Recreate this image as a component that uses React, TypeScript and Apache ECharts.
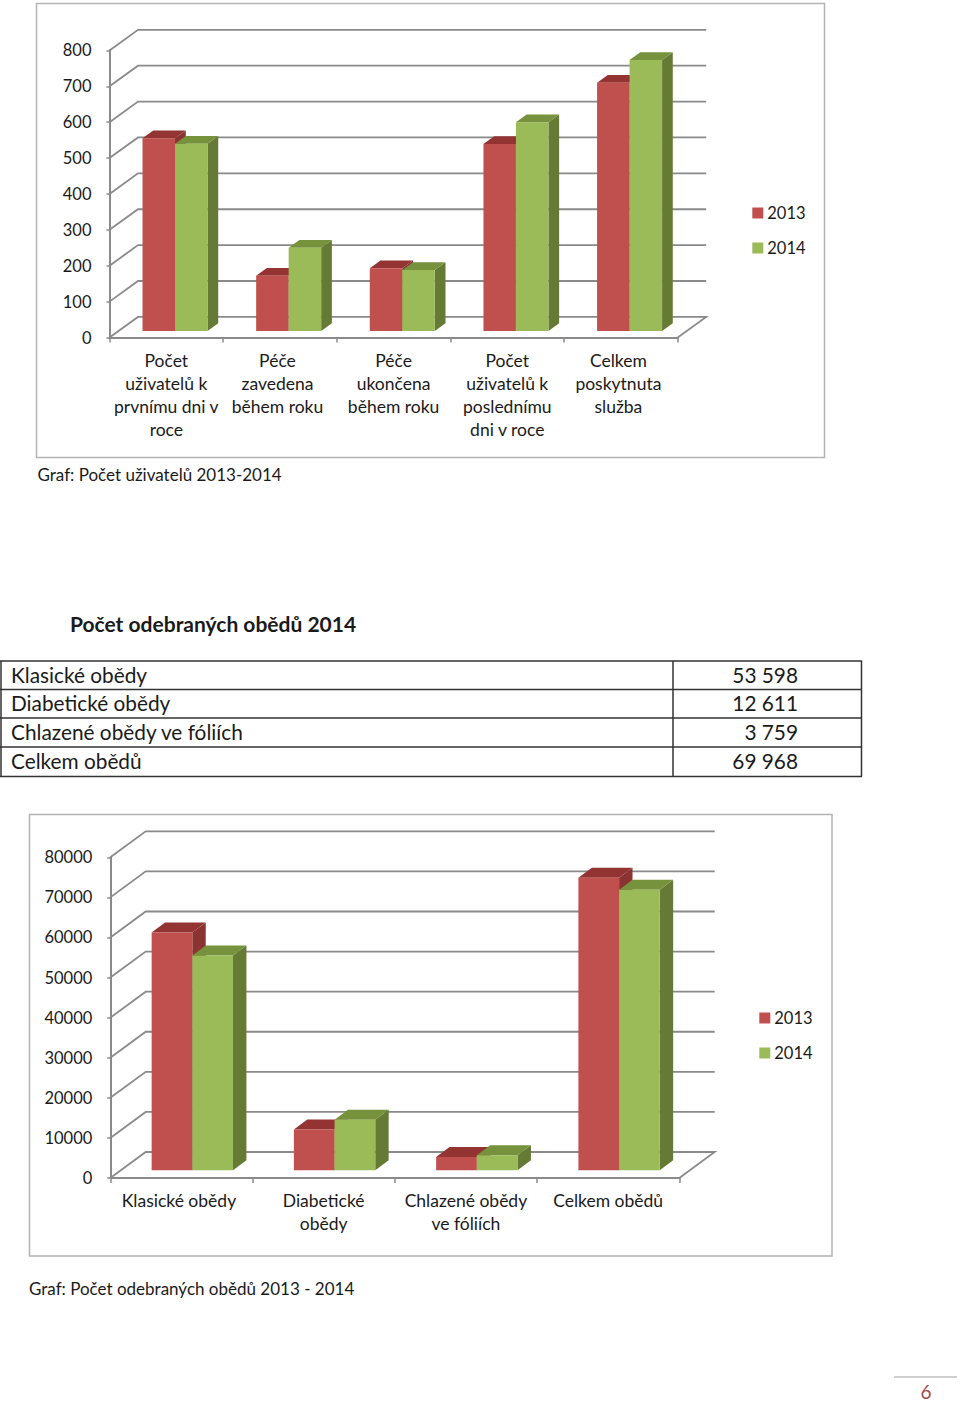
import React, { useEffect, useRef } from "react";
import * as echarts from "echarts";

const usersCategories = [
  "Počet\nuživatelů k\nprvnímu dni v\nroce",
  "Péče\nzavedena\nběhem roku",
  "Péče\nukončena\nběhem roku",
  "Počet\nuživatelů k\nposlednímu\ndni v roce",
  "Celkem\nposkytnuta\nslužba",
];
const users2013 = [537, 154, 175, 521, 692];
const users2014 = [522, 232, 170, 582, 755];
const usersTicks = [0, 100, 200, 300, 400, 500, 600, 700, 800];

const mealsCategories = ["Klasické obědy", "Diabetické\nobědy", "Chlazené obědy\nve fóliích", "Celkem obědů"];
const meals2013 = [59300, 10200, 3300, 73000];
const meals2014 = [53598, 12611, 3759, 69968];
const mealsTicks = [0, 10000, 20000, 30000, 40000, 50000, 60000, 70000, 80000];

const tableLabels = ["Klasické obědy", "Diabetické obědy", "Chlazené obědy ve fóliích", "Celkem obědů"];
const tableValues = ["53 598", "12 611", "3 759", "69 968"];

const FONT = "Lato";
const GRAY = "#8a8a8a";
const RED = { front: "#c0504d", top: "#933432", side: "#8a3331" };
const GREEN = { front: "#9bbb59", top: "#76923c", side: "#647a35" };

type Geo = {
  left: number; top: number; right: number; bottom: number;
  wallDx: number; wallDy: number; offX: number; offY: number; barDx: number; barDy: number;
};
const geoUsers: Geo = { left: 109.5, top: 50.4, right: 677.7, bottom: 337.5, wallDx: 28.5, wallDy: 20.6, offX: 8.7, offY: 6.5, barDx: 10.7, barDy: 7.7 };
const geoMeals: Geo = { left: 110.3, top: 857.3, right: 679.3, bottom: 1178, wallDx: 35.4, wallDy: 26, offX: 10.9, offY: 7.7, barDx: 13.4, barDy: 10 };

function wallSeries(axisIndex: number, ticks: number[], geo: Geo) {
  return {
    type: "custom",
    name: "wall",
    xAxisIndex: axisIndex,
    yAxisIndex: axisIndex,
    silent: true,
    z: 1,
    data: ticks.map((t) => [0, t]),
    renderItem: (_p: any, api: any) => {
      const y = api.coord([0, api.value(1)])[1];
      const pts: number[][] = [
        [geo.left, y],
        [geo.left + geo.wallDx, y - geo.wallDy],
        [geo.right + geo.wallDx, y - geo.wallDy],
      ];
      if (api.value(1) === 0) pts.push([geo.right, y]);
      return { type: "polyline", shape: { points: pts }, style: { stroke: GRAY, lineWidth: 1.8, fill: "none" } };
    },
  };
}

function barSeries(name: string, axisIndex: number, values: number[], side: number, c: typeof RED, geo: Geo) {
  return {
    type: "custom",
    name,
    xAxisIndex: axisIndex,
    yAxisIndex: axisIndex,
    z: 3,
    silent: true,
    itemStyle: { color: c.front },
    data: values.map((v, i) => [i, v]),
    renderItem: (_p: any, api: any) => {
      const i = api.value(0);
      const top = api.coord([i, api.value(1)]);
      const base = api.coord([i, 0]);
      const w = api.size([1, 0])[0] * 0.286;
      const x0 = top[0] + geo.offX + (side === 0 ? -w : 0);
      const x1 = x0 + w;
      const y0 = top[1] - geo.offY;
      const y1 = base[1] - geo.offY;
      const { barDx: dx, barDy: dy } = geo;
      return {
        type: "group",
        children: [
          { type: "polygon", shape: { points: [[x1, y0], [x1 + dx, y0 - dy], [x1 + dx, y1 - dy], [x1, y1]] }, style: { fill: c.side } },
          { type: "polygon", shape: { points: [[x0, y0], [x0 + dx, y0 - dy], [x1 + dx, y0 - dy], [x1, y0]] }, style: { fill: c.top } },
          { type: "rect", shape: { x: x0, y: y0, width: w, height: y1 - y0 }, style: { fill: c.front } },
        ],
      };
    },
  };
}

// labelPad: extra room to the right of a label's lines, which moves that label a little to the left
function cat(gridIndex: number, data: string[], labelPad: number[]) {
  const style = { color: "#1a1a1a", fontFamily: FONT, fontSize: 17.5, lineHeight: 23 };
  const rich: any = {};
  labelPad.forEach((p, i) => {
    rich["c" + i] = { ...style, padding: [0, p, 0, 0] };
  });
  return {
    type: "category",
    gridIndex,
    data,
    boundaryGap: true,
    axisLine: { show: true, lineStyle: { color: GRAY, width: 2 } },
    axisTick: { show: true, length: 5, interval: 0, lineStyle: { color: GRAY, width: 1.5 } },
    axisLabel: {
      interval: 0,
      margin: 11,
      ...style,
      hideOverlap: false,
      rich,
      formatter: (v: string) => {
        const i = data.indexOf(v);
        return v.split("\n").map((l) => `{c${i}|${l}}`).join("\n");
      },
    },
    splitLine: { show: false },
  };
}

function val(gridIndex: number, max: number, interval: number) {
  return {
    type: "value",
    gridIndex,
    min: 0,
    max,
    interval,
    axisLine: { show: true, lineStyle: { color: GRAY, width: 2 } },
    axisTick: { show: true, length: 3, lineStyle: { color: GRAY, width: 1.5 } },
    axisLabel: { margin: 18, color: "#1a1a1a", fontFamily: FONT, fontSize: 16.5, formatter: (v: number) => String(v) },
    splitLine: { show: false },
  };
}

function txt(x: number, y: number, text: string, fontSize: number, extra: any = {}) {
  return {
    type: "text",
    x,
    y,
    style: { text, fontSize, fontFamily: FONT, fill: "#1a1a1a", verticalAlign: "middle", align: "left", ...extra },
  };
}

function line(x1: number, y1: number, x2: number, y2: number, stroke: string, lineWidth: number) {
  return { type: "line", shape: { x1, y1, x2, y2 }, style: { stroke, lineWidth } };
}

function legend(left: number, top: number) {
  return {
    left,
    top,
    orient: "vertical",
    data: ["2013", "2014"],
    icon: "rect",
    itemWidth: 11,
    itemHeight: 11,
    itemGap: 18,
    selectedMode: false,
    padding: 0,
    textStyle: { color: "#1a1a1a", fontFamily: FONT, fontSize: 16.5, padding: [0, 0, 0, -1] },
  };
}

const rowEdges = [661, 689.5, 718, 747, 776.5];

export default function App() {
  const ref = useRef<HTMLDivElement>(null);
  useEffect(() => {
    const chart = echarts.init(ref.current!, undefined, { renderer: "svg" });
    const graphics: any[] = [
      { type: "rect", shape: { x: 36.5, y: 3.5, width: 788, height: 454 }, style: { fill: "none", stroke: "#b4b4b4", lineWidth: 1.5 } },
      { type: "rect", shape: { x: 29.5, y: 814.5, width: 802.5, height: 441.5 }, style: { fill: "none", stroke: "#b4b4b4", lineWidth: 1.5 } },
      txt(37.5, 474.5, "Graf: Počet uživatelů 2013-2014", 17),
      txt(70, 623.5, "Počet odebraných obědů 2014", 21, { fontWeight: "bold" }),
      txt(29, 1288.5, "Graf: Počet odebraných obědů 2013 - 2014", 17),
      line(894, 1377, 957, 1377, "#a0a0a0", 1),
      txt(926, 1391.5, "6", 19, { fill: "#a04a48", align: "center" }),
      line(1, 661, 1, 776.5, "#333", 1.5),
      line(673, 661, 673, 776.5, "#333", 1.5),
      line(861.5, 661, 861.5, 776.5, "#333", 1.5),
      ...rowEdges.map((y) => line(0, y, 862, y, "#333", 1.5)),
      ...tableLabels.map((t, i) => txt(11, (rowEdges[i] + rowEdges[i + 1]) / 2 - 0.8, t, 20.8)),
      ...tableValues.map((t, i) => txt(798, (rowEdges[i] + rowEdges[i + 1]) / 2 - 0.8, t, 20.8, { align: "right" })),
    ];
    chart.setOption({
      animation: false,
      backgroundColor: "#ffffff",
      grid: [
        { left: geoUsers.left, top: geoUsers.top, width: geoUsers.right - geoUsers.left, height: geoUsers.bottom - geoUsers.top },
        { left: geoMeals.left, top: geoMeals.top, width: geoMeals.right - geoMeals.left, height: geoMeals.bottom - geoMeals.top },
      ],
      legend: [legend(752.3, 204.5), legend(759.3, 1009.5)],
      xAxis: [cat(0, usersCategories, [0, 5, 0, 0, 5]), cat(1, mealsCategories, [5, 0, 0, 0])],
      yAxis: [val(0, 800, 100), val(1, 80000, 10000)],
      series: [
        wallSeries(0, usersTicks, geoUsers),
        barSeries("2013", 0, users2013, 0, RED, geoUsers),
        barSeries("2014", 0, users2014, 1, GREEN, geoUsers),
        wallSeries(1, mealsTicks, geoMeals),
        barSeries("2013", 1, meals2013, 0, RED, geoMeals),
        barSeries("2014", 1, meals2014, 1, GREEN, geoMeals),
      ],
      graphic: { elements: graphics },
    });
    return () => chart.dispose();
  }, []);
  return <div ref={ref} style={{ position: "absolute", left: 0, top: 0, width: 960, height: 1406 }} />;
}
